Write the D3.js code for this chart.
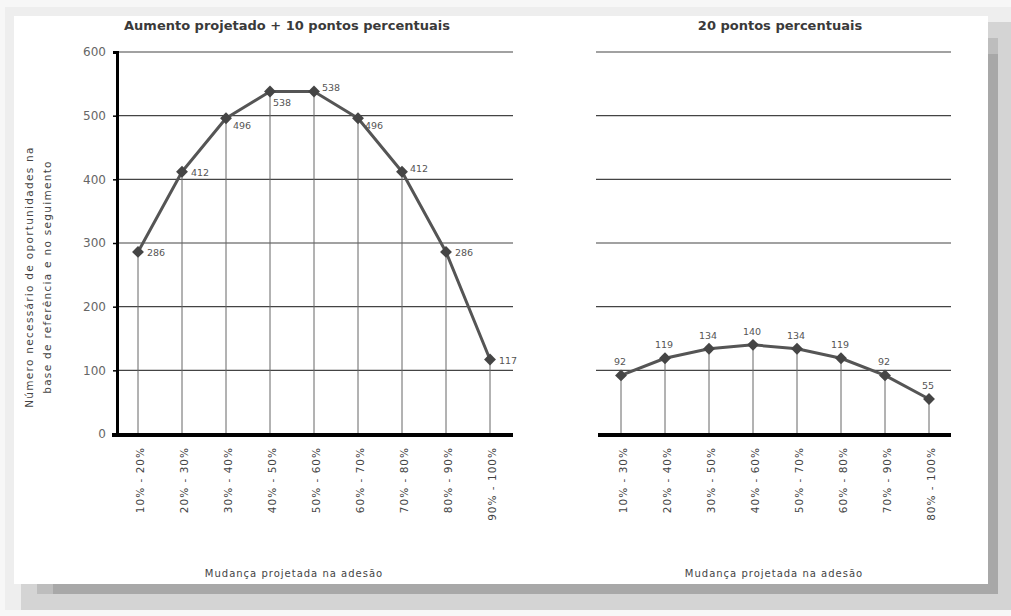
<!DOCTYPE html>
<html><head><meta charset="utf-8">
<script src="https://cdn.jsdelivr.net/npm/d3@7"></script>
<style>
html,body{margin:0;padding:0;background:#f4f4f4;}
svg{display:block;font-family:"DejaVu Sans",Verdana,sans-serif;}
</style></head>
<body>
<svg id="c" width="1011" height="616"></svg>
<script>
// ---- data ----
const catsLeft = ["10% - 20%","20% - 30%","30% - 40%","40% - 50%","50% - 60%","60% - 70%","70% - 80%","80% - 90%","90% - 100%"];
const valsLeft = [286, 412, 496, 538, 538, 496, 412, 286, 117];
const labelPosLeft = ["r","r","br","b","tr","br","tr","r","r"];
const catsRight = ["10% - 30%","20% - 40%","30% - 50%","40% - 60%","50% - 70%","60% - 80%","70% - 90%","80% - 100%"];
const valsRight = [92, 119, 134, 140, 134, 119, 92, 55];
const yTicks = [0, 100, 200, 300, 400, 500, 600];
const titleLeft = "Aumento projetado + 10 pontos percentuais";
const titleRight = "20 pontos percentuais";
const xTitle = "Mudança projetada na adesão";
const yTitle = ["Número necessário de oportunidades na", "base de referência e no seguimento"];

const svg = d3.select("#c");

// frame / shadow
svg.append("rect").attr("x",0).attr("y",0).attr("width",1011).attr("height",616).attr("fill","#f7f7f7");
svg.append("rect").attr("x",5).attr("y",7).attr("width",1006).attr("height",603).attr("fill","#eeeeee");
svg.append("rect").attr("x",21).attr("y",22).attr("width",990).attr("height",588).attr("fill","#d4d4d4");
svg.append("rect").attr("x",37).attr("y",38).attr("width",961).attr("height",556).attr("fill","#bdbdbd");
svg.append("rect").attr("x",53).attr("y",54).attr("width",945).attr("height",540).attr("fill","#a8a8a8");
svg.append("rect").attr("x",14).attr("y",16).attr("width",974).attr("height",568).attr("fill","#ffffff");

const y = d3.scaleLinear().domain([0,600]).range([434,52]);

const lpOffset = {
  r:  {dx:9,  dy:4,  anchor:"start"},
  br: {dx:7,  dy:11, anchor:"start"},
  b:  {dx:3,  dy:15, anchor:"start"},
  tr: {dx:8,  dy:0,  anchor:"start"},
  t:  {dx:-1, dy:-10, anchor:"middle"}
};

function panel(opts){
  const g = svg.append("g");
  const x = d3.scaleBand().domain(opts.cats).range(opts.xr).paddingInner(0).paddingOuter(0);
  const cx = d => x(d) + x.bandwidth()/2;
  // gridlines
  g.selectAll("line.grid").data(yTicks.filter(t=>t>0)).join("line")
    .attr("x1", opts.gx[0]).attr("x2", opts.gx[1])
    .attr("y1", d=>y(d)).attr("y2", d=>y(d))
    .attr("stroke","#444").attr("stroke-width",1.2);
  // drop lines
  g.selectAll("line.drop").data(opts.cats).join("line")
    .attr("x1", d=>cx(d)).attr("x2", d=>cx(d))
    .attr("y1", (d,i)=>y(opts.vals[i])).attr("y2", y(0))
    .attr("stroke","#666").attr("stroke-width",1);
  // y axis
  if (opts.yaxis){
    const ax = g.append("g").attr("transform",`translate(${opts.xr[0]+1},0)`)
      .call(d3.axisLeft(y).tickValues(yTicks).tickSize(4).tickPadding(7));
    ax.select(".domain").attr("stroke","#000").attr("stroke-width",3);
    ax.selectAll(".tick line").attr("stroke","#000").attr("stroke-width",1.5);
    ax.selectAll("text").attr("font-size",12).attr("fill","#666")
      .attr("font-family","DejaVu Sans, sans-serif");
  }
  // x axis
  g.append("line").attr("x1",opts.ax[0]).attr("x2",opts.ax[1])
    .attr("y1",y(0)+1).attr("y2",y(0)+1).attr("stroke","#000").attr("stroke-width",4);
  // category labels
  g.selectAll("text.cat").data(opts.cats).join("text")
    .attr("transform", d=>`translate(${cx(d)+6},447) rotate(-90)`)
    .attr("text-anchor","end").attr("font-size",10.5).attr("letter-spacing",1.0).attr("fill","#444")
    .text(d=>d);
  // line
  const line = d3.line().x((d,i)=>cx(opts.cats[i])).y(d=>y(d));
  g.append("path").datum(opts.vals).attr("d",line)
    .attr("fill","none").attr("stroke","#555").attr("stroke-width",3).attr("stroke-linejoin","round");
  // markers
  g.selectAll("path.mk").data(opts.vals).join("path")
    .attr("d", d3.symbol().type(d3.symbolDiamond2).size(90))
    .attr("transform",(d,i)=>`translate(${cx(opts.cats[i])},${y(d)})`)
    .attr("fill","#454545");
  // value labels
  g.selectAll("text.val").data(opts.vals).join("text")
    .attr("x",(d,i)=>cx(opts.cats[i]) + lpOffset[opts.lp[i]].dx)
    .attr("y",(d,i)=>y(d) + lpOffset[opts.lp[i]].dy)
    .attr("text-anchor",(d,i)=>lpOffset[opts.lp[i]].anchor)
    .attr("font-size",9.5).attr("fill","#555")
    .text(d=>d);
  // titles
  g.append("text").attr("x",opts.tx).attr("y",30).attr("text-anchor","middle")
    .attr("font-size",13).attr("font-weight","bold").attr("fill","#3a3a3a").text(opts.title);
  g.append("text").attr("x",opts.xtx).attr("y",577).attr("text-anchor","middle")
    .attr("font-size",10).attr("letter-spacing",1.0).attr("fill","#444").text(xTitle);
}

panel({cats:catsLeft, vals:valsLeft, lp:labelPosLeft, xr:[116,512], gx:[117,513], ax:[112,513],
  yaxis:true, title:titleLeft, tx:287, xtx:294});
panel({cats:catsRight, vals:valsRight, lp:catsRight.map(()=>"t"), xr:[599,951], gx:[596,951], ax:[598,951],
  yaxis:false, title:titleRight, tx:780, xtx:774});

// y axis title
const yt = svg.append("text").attr("transform","translate(33,277) rotate(-90)")
  .attr("text-anchor","middle").attr("font-size",10.5).attr("letter-spacing",1.3).attr("fill","#444");
yt.selectAll("tspan").data(yTitle).join("tspan")
  .attr("x",0).attr("dy",(d,i)=>i===0?0:18).text(d=>d);
</script>
</body></html>
